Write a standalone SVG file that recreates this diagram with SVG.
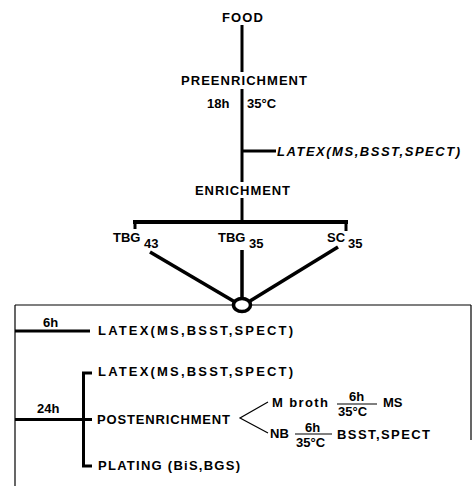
<svg xmlns="http://www.w3.org/2000/svg" width="472" height="486" viewBox="0 0 472 486">
<style>
text{font-family:"Liberation Sans",Arial,sans-serif;font-weight:bold;font-size:13px;fill:#000}
.it{font-style:italic}
.thick{stroke:#000;stroke-width:3;fill:none;stroke-linecap:butt}
.thin{stroke:#000;stroke-width:1.2;fill:none}
</style>
<rect width="472" height="486" fill="#fff"/>
<g id="connectors">
<line class="thick" x1="242" y1="25" x2="242" y2="72"/>
<line class="thick" x1="242" y1="89" x2="242" y2="182"/>
<line class="thick" x1="242" y1="151" x2="276" y2="151"/>
<line class="thick" x1="242" y1="198" x2="242" y2="222"/>
<line class="thick" x1="133" y1="222" x2="348" y2="222" style="stroke-width:4"/>
<line class="thick" x1="135" y1="220" x2="135" y2="229"/>
<line class="thick" x1="346" y1="220" x2="346" y2="231"/>
<line class="thick" x1="150" y1="252" x2="235" y2="302" style="stroke-width:3.5"/>
<line class="thick" x1="242" y1="250" x2="242" y2="298" style="stroke-width:3.5"/>
<line class="thick" x1="338" y1="247" x2="250" y2="301" style="stroke-width:3.5"/>
<line class="thin" x1="15" y1="305" x2="471" y2="305"/>
<line class="thin" x1="15" y1="305" x2="15" y2="486"/>
<line class="thin" x1="471" y1="305" x2="471" y2="440"/>
<line class="thick" x1="15" y1="331" x2="90" y2="331"/>
<line class="thick" x1="15" y1="419.5" x2="92" y2="419.5"/>
<line class="thick" x1="83.5" y1="372" x2="83.5" y2="467"/>
<line class="thick" x1="82" y1="373" x2="92" y2="373"/>
<line class="thick" x1="82" y1="466" x2="92" y2="466"/>
<polyline class="thin" points="268,402 240,418 268,433"/>
<line class="thin" x1="337" y1="404" x2="377" y2="404"/>
<line class="thin" x1="295" y1="434" x2="332" y2="434"/>
</g>
<g id="food"><text x="222" y="22" textLength="41" lengthAdjust="spacing">FOOD</text></g>
<g id="preenrichment"><text x="181" y="85" textLength="126" lengthAdjust="spacing">PREENRICHMENT</text>
<text x="207" y="108">18h</text>
<text x="247" y="108">35°C</text></g>
<g id="latex1"><text class="it" x="277" y="156" textLength="183" lengthAdjust="spacing">LATEX(MS,BSST,SPECT)</text></g>
<g id="enrichment"><text x="195" y="195" textLength="95" lengthAdjust="spacing">ENRICHMENT</text></g>
<g id="tbg43"><text x="113" y="242">TBG</text><text x="144" y="248">43</text></g>
<g id="tbg35"><text x="218" y="242">TBG</text><text x="249" y="248">35</text></g>
<g id="sc35"><text x="327" y="242">SC</text><text x="348" y="248">35</text></g>
<g id="pool"><ellipse cx="242" cy="305" rx="8.5" ry="6.5" fill="#fff" stroke="#000" stroke-width="3.5"/></g>
<g id="latex6h"><text x="43" y="327">6h</text>
<text x="98" y="335" textLength="195" lengthAdjust="spacing">LATEX(MS,BSST,SPECT)</text></g>
<g id="latex24h"><text x="98" y="376" textLength="195" lengthAdjust="spacing">LATEX(MS,BSST,SPECT)</text></g>
<g id="h24"><text x="37" y="413">24h</text></g>
<g id="postenrichment"><text x="97" y="424" textLength="133" lengthAdjust="spacing">POSTENRICHMENT</text></g>
<g id="plating"><text x="98" y="470" textLength="142" lengthAdjust="spacing">PLATING (BiS,BGS)</text></g>
<g id="mbroth"><text x="272" y="407" textLength="56" lengthAdjust="spacing">M broth</text>
<text x="349" y="401">6h</text>
<text x="338" y="416">35°C</text>
<text x="383" y="407">MS</text></g>
<g id="nb"><text x="270" y="438">NB</text>
<text x="305" y="432">6h</text>
<text x="296" y="447">35°C</text>
<text x="337" y="439" textLength="93" lengthAdjust="spacing">BSST,SPECT</text></g>
</svg>
